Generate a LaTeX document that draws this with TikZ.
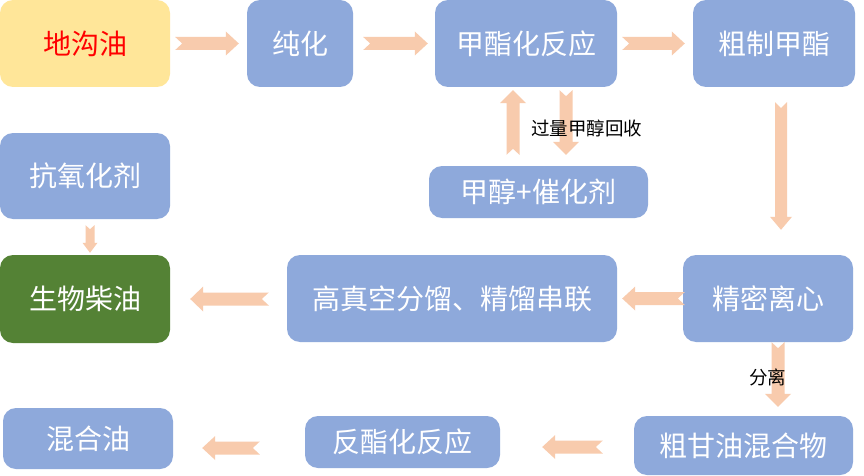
\documentclass[tikz,border=0pt]{standalone}
\usepackage{fontspec}
\newfontfamily\cjk{Noto Sans CJK SC}
\usetikzlibrary{calc}
\definecolor{boxblue}{HTML}{8EA9DB}
\definecolor{boxyellow}{HTML}{FFE699}
\definecolor{boxgreen}{HTML}{548235}
\definecolor{arrowc}{HTML}{F8CBAD}
\tikzset{
  box/.style={rectangle, rounded corners=13pt, fill=boxblue, text=white, inner sep=0pt,
    font=\cjk\fontsize{28pt}{30pt}\selectfont},
  lbl/.style={inner sep=0pt, text=black, font=\cjk\fontsize{18.5pt}{20pt}\selectfont},
}
% horizontal notched block arrow: from, to, shaft half, head half, head length, notch
\newcommand\harr[6]{%
  \fill[arrowc] let \p1=#1, \p2=#2, \n1={sign(\x2-\x1)} in
   (\x1,\y1+#3) -- (\x2-\n1*#5,\y1+#3) -- (\x2-\n1*#5,\y1+#4) -- (\x2,\y1)
   -- (\x2-\n1*#5,\y1-#4) -- (\x2-\n1*#5,\y1-#3) -- (\x1,\y1-#3) -- (\x1+\n1*#6,\y1) -- cycle;}
% vertical notched block arrow
\newcommand\varr[6]{%
  \fill[arrowc] let \p1=#1, \p2=#2, \n1={sign(\y2-\y1)} in
   (\x1+#3,\y1) -- (\x1+#3,\y2-\n1*#5) -- (\x1+#4,\y2-\n1*#5) -- (\x1,\y2)
   -- (\x1-#4,\y2-\n1*#5) -- (\x1-#3,\y2-\n1*#5) -- (\x1-#3,\y1) -- (\x1,\y1+\n1*#6) -- cycle;}
\begin{document}
\begin{tikzpicture}[x=1pt,y=-1pt]
\useasboundingbox (0,0) rectangle (864,476);
\fill[white] (0,0) rectangle (864,476);
% nodes
\node[box, fill=boxyellow, text=red, minimum width=170pt, minimum height=87pt] (A) at (85,43.5) {地沟油};
\node[box, minimum width=106pt, minimum height=87pt] (B) at (300,43.5) {纯化};
\node[box, minimum width=182pt, minimum height=87pt] (C) at (526,43.5) {甲酯化反应};
\node[box, minimum width=162pt, minimum height=87pt] (D) at (774,43.5) {粗制甲酯};
\node[box, minimum width=219pt, minimum height=52pt] (E) at (538.5,192) {甲醇+催化剂};
\node[box, minimum width=170pt, minimum height=86pt] (F) at (85,176) {抗氧化剂};
\node[box, fill=boxgreen, minimum width=170pt, minimum height=88pt] (G) at (85,299) {生物柴油};
\node[box, minimum width=330pt, minimum height=87pt] (H) at (452,298.5) {高真空分馏、精馏串联};
\node[box, minimum width=170pt, minimum height=87pt] (I) at (768,298.5) {精密离心};
\node[box, minimum width=219pt, minimum height=59pt] (J) at (743.5,445.5) {粗甘油混合物};
\node[box, minimum width=195pt, minimum height=52pt] (K) at (402.5,442) {反酯化反应};
\node[box, minimum width=170pt, minimum height=61pt] (L) at (88,438.5) {混合油};
% arrows
\harr{($(A.east)+(5,0)$)}{($(B.west)+(-8,0)$)}{6.5pt}{12pt}{13pt}{7pt}
\harr{($(B.east)+(10,0)$)}{($(C.west)+(-7,0)$)}{6.5pt}{12pt}{13pt}{7pt}
\harr{($(C.east)+(5,0)$)}{($(D.west)+(-8,0)$)}{6.5pt}{12pt}{13pt}{7pt}
\varr{($(D.south)+(7,15)$)}{($(I.north)+(13,-25)$)}{6pt}{11pt}{13pt}{6pt}
\varr{($(E.north)+(-25.5,-11)$)}{($(C.south)+(-13,3)$)}{6.5pt}{13pt}{13pt}{6pt}
\varr{($(C.south)+(40,3)$)}{($(E.north)+(27.5,-11)$)}{6.5pt}{13pt}{13pt}{6pt}
\varr{($(F.south)+(5,6)$)}{($(G.north)+(5,-2)$)}{4.5pt}{7.5pt}{10pt}{4pt}
\harr{($(H.west)+(-18,0.5)$)}{($(G.east)+(20,0)$)}{6.5pt}{12.5pt}{13pt}{7pt}
\harr{($(I.west)+(2,0)$)}{($(H.east)+(5,0)$)}{6.5pt}{12pt}{13pt}{7pt}
\varr{($(I.south)+(10,0)$)}{($(J.north)+(34.5,-9)$)}{6.5pt}{13pt}{13pt}{6pt}
\harr{($(J.west)+(-31,1.5)$)}{($(K.east)+(42,5)$)}{6.5pt}{12pt}{13pt}{7pt}
\harr{($(K.west)+(-45,6)$)}{($(L.east)+(29,9.5)$)}{6.5pt}{12pt}{13pt}{7pt}
% labels
\node[lbl] (l1) at (586.5,128) {过量甲醇回收};
\node[lbl] (l2) at (767.5,377) {分离};
\end{tikzpicture}
\end{document}
